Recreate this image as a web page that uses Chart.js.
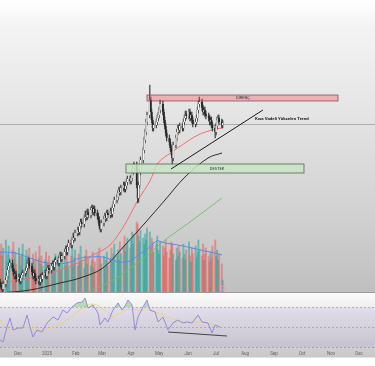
<!DOCTYPE html>
<html>
<head>
<meta charset="utf-8">
<script src="https://cdn.jsdelivr.net/npm/chart.js@4.4.1/dist/chart.umd.min.js"></script>
<style>
  html, body { margin: 0; padding: 0; width: 375px; height: 366px; overflow: hidden; background: #fff; font-family: Roboto, sans-serif; }
  #main-wrap { position: absolute; left: 0; top: 0; width: 375px; height: 292px;
    background: linear-gradient(#ffffff 0px, #f4f4f4 25px, #e3e3e3 120px, #d0d0d0 220px, #bfbfbf 292px); }
  #sep { position: absolute; left: 0; top: 292px; width: 375px; height: 1px; background: #9c9c9c; }
  #rsi-wrap { position: absolute; left: 0; top: 293px; width: 375px; height: 73px;
    background: linear-gradient(#fbfbfb 0px, #efefef 14px, #d8d8d8 45px, #c7c7c7 64px, #ffffff 65px); }
</style>
</head>
<body>
<div id="main-wrap"><canvas id="main-chart" width="375" height="292"></canvas></div>
<div id="sep"></div>
<div id="rsi-wrap"><canvas id="rsi-chart" width="375" height="73"></canvas></div>
<script>
// --- Data (days counted from 2024-11-01) ---
const monthDays = [30, 61, 92, 120, 151, 181, 212, 242, 273, 304, 334, 365, 395];
const monthLabels = ['Dec', '2025', 'Feb', 'Mar', 'Apr', 'May', 'Jun', 'Jul', 'Aug', 'Sep', 'Oct', 'Nov', 'Dec'];

const opens = [
  110,107,105,103,108,112,116,122,126,129, 124,120,116,118,113,115,111,114,117,119,
  121,124,128,131,126,120,116,119,114,111, 113,110,115,113,117,119,116,121,124,122,
  126,128,125,130,132,129,134,137,133,136, 140,143,140,145,149,147,152,156,154,159,
  162,160,166,170,168,174,178,175,180,177, 182,184,180,183,179,176,172,166,163,169,
  173,176,174,179,177,181,178,184,188,192, 195,199,202,200,204,207,203,206,210,213,
  211,214,220,224,227,207,194,207,220,232, 242,252,260,270,277,292,280,272,264,267,
  270,274,277,282,288,280,272,266,259,254, 250,244,240,234,247,254,260,264,262,266,
  264,270,274,278,276,280,274,277,272,268, 270,274,282,288,290,284,280,282,278,276,
  274,270,272,267,264,260,266,272,274,270,267
];
const highs = [
  113,110,108,111,115,119,125,129,132,132, 127,123,121,121,118,118,117,120,122,124,
  127,131,134,134,129,123,122,122,117,116, 116,118,118,120,122,122,124,127,127,129,
  131,131,133,135,135,137,140,140,139,143, 146,146,148,152,152,155,159,159,162,165,
  165,169,173,173,177,181,181,183,183,185, 187,187,186,186,182,179,175,169,172,176,
  179,179,182,182,184,184,187,191,195,198, 202,205,205,207,210,210,209,213,216,216,
  217,223,227,230,230,210,210,223,235,245, 255,263,273,280,307,295,283,275,270,273,
  277,280,285,292,291,283,275,269,262,257, 253,247,243,250,257,263,267,267,269,269,
  273,277,281,281,283,283,280,280,275,273, 277,285,291,295,293,287,285,285,281,279,
  277,275,275,270,267,269,275,277,277,273,272
];
const lows = [
  104,102,100,100,105,109,113,119,123,121, 117,113,113,110,110,108,108,111,114,116,
  118,121,125,123,117,113,113,111,108,108, 107,107,110,110,114,113,113,118,119,119,
  123,122,122,127,126,126,131,130,130,133, 137,137,137,142,144,144,149,151,151,156,
  157,157,163,165,165,171,172,172,174,174, 179,177,177,176,173,169,163,160,160,166,
  170,171,171,174,174,175,175,181,185,189, 192,196,197,197,201,200,200,203,207,208,
  208,211,217,221,204,189,190,204,217,229, 239,249,257,267,274,277,269,261,261,264,
  267,271,274,279,277,269,263,256,251,247, 241,237,227,231,244,251,257,259,259,261,
  261,267,271,273,273,271,271,269,265,265, 267,271,279,285,281,277,277,275,273,271,
  267,267,264,261,254,257,263,269,267,264,264
];
const closes = [
  107,105,103,108,112,116,122,126,129,124, 120,116,118,113,115,111,114,117,119,121,
  124,128,131,126,120,116,119,114,111,113, 110,115,113,117,119,116,121,124,122,126,
  128,125,130,132,129,134,137,133,136,140, 143,140,145,149,147,152,156,154,159,162,
  160,166,170,168,174,178,175,180,177,182, 184,180,183,179,176,172,166,163,169,173,
  176,174,179,177,181,178,184,188,192,195, 199,202,200,204,207,203,206,210,213,211,
  214,220,224,227,207,194,207,220,232,242, 252,260,270,277,292,280,272,264,267,270,
  274,277,282,288,280,272,266,259,254,250, 244,240,234,247,254,260,264,262,266,264,
  270,274,278,276,280,274,277,272,268,270, 274,282,288,290,284,280,282,278,276,274,
  270,272,267,264,260,266,272,274,270,267,269
];
const volumes = [
  20,24,18,22,26,15,19,23,17,21, 25,16,20,14,22,18,13,19,24,17,
  21,15,18,22,14,19,16,12,20,17, 23,14,18,13,16,20,15,12,18,14,
  11,16,13,19,12,15,17,11,14,18, 13,20,15,12,18,22,14,17,21,13,
  19,15,23,16,12,18,21,14,17,13, 16,20,12,15,19,11,22,17,14,18,
  12,16,20,13,17,22,15,19,24,18, 21,16,25,19,23,28,20,24,27,22,
  26,30,24,29,35,34,28,25,31,27, 24,29,26,32,30,22,27,25,20,24,
  28,21,19,25,23,18,22,26,20,17, 21,25,24,19,16,22,18,23,20,17,
  24,19,16,21,25,18,15,22,19,23, 17,20,26,21,18,24,16,19,22,18,
  15,20,17,23,26,18,21,16,19,14,6
];

const emaRedDays = [10.7, 32.1, 53.5, 74.9, 96.3, 110.2, 128.4, 144.5, 158.4, 171.2, 179.8, 194.8, 205.5, 222.6, 237.6, 248.3];
const emaRedValues = [109, 112, 116, 122, 130, 137, 147, 168, 192, 211, 229, 240, 247, 257, 262, 264];
const emaBlackDays = [10.7, 42.8, 74.9, 96.3, 120.9, 144.5, 165.9, 187.3, 208.7, 233.3, 248.3];
const emaBlackValues = [99, 102, 109, 114, 124, 147, 169, 192, 215, 234, 239];
const emaGreenDays = [101.7, 128.4, 144.5, 171.2, 187.3, 214.0, 248.3];
const emaGreenValues = [99, 110, 120, 139, 152, 170, 194];
const volMaDays = [10.7, 26.8, 42.8, 61.0, 82.4, 96.3, 107.0, 120.9, 133.8, 146.6, 160.5, 171.2, 178.7, 187.3, 201.2, 216.2, 230.1, 240.8, 248.3];
const volMaValues = [20, 19.5, 17, 14.5, 14.5, 17, 17.5, 17.5, 15.5, 15, 19, 22.5, 25.5, 24.5, 23.5, 22, 20.5, 19.5, 18.5];

const rsiDays = [10.7,13.9,18.2,21.4,24.6,30.0,35.3,39.6,42.8,46.0,50.3,55.6,61.0,67.4,72.8,78.1,82.4,87.7,93.1,98.5,
  101.7,104.9,110.2,115.6,117.7,123.1,126.3,131.6,137.0,141.3,144.5,147.7,152.0,155.2,158.4,163.7,168.0,171.2,176.6,179.8,
  185.1,190.5,195.8,201.2,206.5,210.8,216.2,222.6,226.9,233.3,237.6,240.8,246.1];
const rsiValues = [37,35,50,59,47,49,49,62,50,40,47,45,54,60,57,67,64,70,74,75,
  79,69,72,64,52,59,55,67,74,67,71,77,72,47,60,70,77,67,65,55,
  60,47,54,57,54,55,54,62,55,54,44,52,50];
const rsiMaDays = [10.7, 21.4, 32.1, 46.0, 56.7, 67.4, 82.4, 96.3, 110.2, 125.2, 131.6, 144.5, 158.4, 169.1, 179.8, 198.0, 216.2, 233.3, 246.1];
const rsiMaValues = [57, 47, 49, 49, 47, 50, 57, 67, 73, 65, 60, 67, 67, 67, 64, 57, 55, 54, 50];

// drawings on the chart (days, price / rsi)
const resistanceZone = { from: 168, to: 372.4, low: 291, high: 297, label: 'DİRENÇ', labelDay: 270.7 };
const supportZone = { from: 145.5, to: 336, low: 219, high: 228, label: 'DESTEK', labelDay: 242.9 };
const trendLine = { d1: 193.7, p1: 223, d2: 292.1, p2: 282, label: 'Kısa Vadeli Yükselen Trend', labelDay: 283.6, labelPrice: 273.5 };
const lastPrice = 268;
const rsiDivergence = { d1: 190.5, v1: 45, d2: 253.6, v2: 41 };

// trading days (weekdays) starting 2024-11-12
const base = Date.UTC(2024, 10, 1);
const tradeDays = [];
for (let t = Date.UTC(2024, 10, 12); tradeDays.length < closes.length; t += 864e5) {
    const wd = new Date(t).getUTCDay();
    if (wd !== 0 && wd !== 6) tradeDays.push((t - base) / 864e5);
}

const X_MIN = 10.7;
const X_MAX = 412;

const pairs = (xs, ys) => xs.map((x, i) => ({ x, y: ys[i] }));
const isUp = i => closes[i] >= opens[i];

// --- Main chart overlay ---
const mainOverlay = {
    id: 'mainOverlay',
    beforeDatasetsDraw(chart) {
        const { ctx, chartArea: a, scales: { y } } = chart;
        const py = Math.round(y.getPixelForValue(lastPrice)) + 0.5;
        ctx.save();
        ctx.strokeStyle = 'rgba(130,130,130,0.55)';
        ctx.lineWidth = 1;
        ctx.beginPath();
        ctx.moveTo(a.left, py);
        ctx.lineTo(a.right, py);
        ctx.stroke();
        ctx.restore();
    },
    afterDatasetsDraw(chart) {
        const { ctx, scales: { x, y } } = chart;
        ctx.save();
        const drawZone = (z, fill, stroke) => {
            const x1 = x.getPixelForValue(z.from), x2 = x.getPixelForValue(z.to);
            const y1 = y.getPixelForValue(z.high), y2 = y.getPixelForValue(z.low);
            ctx.fillStyle = fill;
            ctx.fillRect(x1, y1, x2 - x1, y2 - y1);
            ctx.strokeStyle = stroke;
            ctx.lineWidth = 0.8;
            ctx.strokeRect(x1, y1, x2 - x1, y2 - y1);
            ctx.fillStyle = '#333';
            ctx.font = '4px Roboto';
            ctx.textAlign = 'center';
            ctx.textBaseline = 'middle';
            ctx.fillText(z.label, x.getPixelForValue(z.labelDay), (y1 + y2) / 2);
        };
        drawZone(resistanceZone, 'rgba(242,54,69,0.3)', 'rgba(120,60,66,0.85)');
        drawZone(supportZone, 'rgba(200,228,196,0.85)', 'rgba(70,90,70,0.9)');

        ctx.strokeStyle = '#1a1a1a';
        ctx.lineWidth = 1;
        ctx.beginPath();
        ctx.moveTo(x.getPixelForValue(trendLine.d1), y.getPixelForValue(trendLine.p1));
        ctx.lineTo(x.getPixelForValue(trendLine.d2), y.getPixelForValue(trendLine.p2));
        ctx.stroke();
        ctx.fillStyle = '#222';
        ctx.font = 'bold 4.4px Roboto';
        ctx.textAlign = 'left';
        ctx.textBaseline = 'middle';
        ctx.fillText(trendLine.label, x.getPixelForValue(trendLine.labelDay), y.getPixelForValue(trendLine.labelPrice));

        // marker under the last volume bar
        const vol = chart.scales.vol;
        const mx = x.getPixelForValue(tradeDays[tradeDays.length - 1]);
        const my = vol.getPixelForValue(2);
        ctx.fillStyle = 'rgba(240,150,170,0.9)';
        ctx.beginPath(); ctx.arc(mx, my, 2.4, 0, Math.PI * 2); ctx.fill();
        ctx.fillStyle = '#5a78d8';
        ctx.beginPath(); ctx.arc(mx, my, 0.8, 0, Math.PI * 2); ctx.fill();
        ctx.restore();
    }
};

new Chart(document.getElementById('main-chart'), {
    type: 'bar',
    data: {
        datasets: [
            {
                label: 'Hacim',
                yAxisID: 'vol',
                data: pairs(tradeDays, volumes),
                backgroundColor: volumes.map((v, i) => isUp(i) ? 'rgba(38,166,154,0.55)' : 'rgba(239,83,80,0.5)'),
                barThickness: 1.3,
                grouped: false,
                order: 6
            },
            {
                type: 'line', label: 'Hacim MA', yAxisID: 'vol',
                data: pairs(volMaDays, volMaValues),
                borderColor: '#5f86ec', borderWidth: 1, pointRadius: 0, tension: 0.35, order: 3
            },
            {
                type: 'line', label: 'EMA 200', yAxisID: 'y',
                data: pairs(emaGreenDays, emaGreenValues),
                borderColor: '#6cbf6c', borderWidth: 0.9, pointRadius: 0, tension: 0.35, order: 3
            },
            {
                type: 'line', label: 'EMA 100', yAxisID: 'y',
                data: pairs(emaBlackDays, emaBlackValues),
                borderColor: '#2b2b2b', borderWidth: 1, pointRadius: 0, tension: 0.35, order: 3
            },
            {
                type: 'line', label: 'EMA 50', yAxisID: 'y',
                data: pairs(emaRedDays, emaRedValues),
                borderColor: '#ef6f6f', borderWidth: 1, pointRadius: 0, tension: 0.35, order: 3
            },
            {
                label: 'Fitil',
                yAxisID: 'y',
                data: tradeDays.map((d, i) => ({ x: d, y: [lows[i], highs[i]] })),
                backgroundColor: '#444444',
                barThickness: 0.6,
                grouped: false,
                order: 1
            },
            {
                label: 'Gövde',
                yAxisID: 'y',
                data: tradeDays.map((d, i) => ({ x: d, y: [opens[i], closes[i]] })),
                backgroundColor: closes.map((c, i) => isUp(i) ? '#f4f4f4' : '#262626'),
                borderColor: '#3a3a3a',
                borderWidth: 0.35,
                borderSkipped: false,
                barThickness: 1.5,
                grouped: false,
                order: 0
            }
        ]
    },
    options: {
        responsive: false,
        animation: false,
        devicePixelRatio: 1,
        layout: { padding: 0 },
        plugins: { legend: { display: false }, tooltip: { enabled: false } },
        scales: {
            x: { type: 'linear', min: X_MIN, max: X_MAX, offset: false, grid: { offset: false }, display: false },
            y: { min: 100, max: 392, display: false },
            vol: { min: 0, max: 146, display: false }
        }
    },
    plugins: [mainOverlay]
});

// --- RSI panel ---
const rsiOverlay = {
    id: 'rsiOverlay',
    beforeDatasetsDraw(chart) {
        const { ctx, chartArea: a, scales: { y } } = chart;
        ctx.save();
        const y70 = y.getPixelForValue(70), y30 = y.getPixelForValue(30);
        ctx.fillStyle = 'rgba(126,87,194,0.11)';
        ctx.fillRect(a.left, y70, a.right - a.left, y30 - y70);
        ctx.strokeStyle = 'rgba(120,120,130,0.55)';
        ctx.lineWidth = 0.8;
        ctx.setLineDash([2, 2]);
        [70, 50, 30].forEach(v => {
            const py = Math.round(y.getPixelForValue(v)) + 0.5;
            ctx.beginPath(); ctx.moveTo(a.left, py); ctx.lineTo(a.right, py); ctx.stroke();
        });
        ctx.restore();
    },
    afterDatasetsDraw(chart) {
        const { ctx, scales: { x, y } } = chart;
        ctx.save();
        ctx.strokeStyle = '#333';
        ctx.lineWidth = 0.9;
        ctx.beginPath();
        ctx.moveTo(x.getPixelForValue(rsiDivergence.d1), y.getPixelForValue(rsiDivergence.v1));
        ctx.lineTo(x.getPixelForValue(rsiDivergence.d2), y.getPixelForValue(rsiDivergence.v2));
        ctx.stroke();

        ctx.fillStyle = '#666';
        ctx.font = '4.5px Roboto';
        ctx.textAlign = 'center';
        ctx.textBaseline = 'middle';
        monthDays.forEach((d, i) => {
            ctx.fillText(monthLabels[i], x.getPixelForValue(d), 61);
        });
        ctx.restore();
    }
};

new Chart(document.getElementById('rsi-chart'), {
    type: 'line',
    data: {
        datasets: [
            {
                label: 'RSI MA',
                data: pairs(rsiMaDays, rsiMaValues),
                borderColor: '#ecd07e', borderWidth: 0.9, pointRadius: 0, tension: 0.35, order: 1
            },
            {
                label: 'RSI',
                data: pairs(rsiDays, rsiValues),
                borderColor: '#8f82d6', borderWidth: 0.9, pointRadius: 0, tension: 0,
                fill: { target: { value: 70 }, above: 'rgba(76,175,80,0.35)', below: 'rgba(0,0,0,0)' },
                order: 0
            }
        ]
    },
    options: {
        responsive: false,
        animation: false,
        devicePixelRatio: 1,
        layout: { padding: { top: 0, bottom: 18, left: 0, right: 0 } },
        plugins: { legend: { display: false }, tooltip: { enabled: false } },
        scales: {
            x: { type: 'linear', min: X_MIN, max: X_MAX, display: false },
            y: { min: 29, max: 84, display: false }
        }
    },
    plugins: [rsiOverlay]
});
</script>
</body>
</html>
